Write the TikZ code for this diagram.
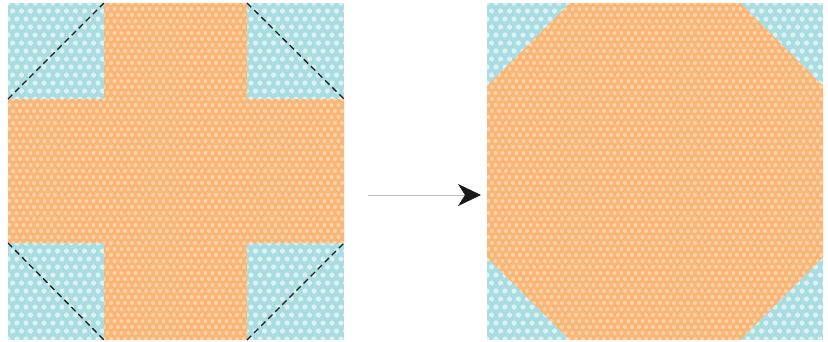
\documentclass[tikz,border=0pt]{standalone}
\usetikzlibrary{arrows.meta}
\definecolor{qblue}{HTML}{A9DDE1}
\definecolor{qorange}{HTML}{FBB574}
\tikzset{
  cutline/.style={black!90,line width=1.3pt,dash pattern=on 6pt off 4pt},
  bluedots/.style={white,opacity=0.6},
  orangedots/.style={white,opacity=0.42},
}
\newcommand{\bdots}[2]{% x0 y0
  \foreach \j in {0,...,43} { \fill[bluedots] foreach \i in {0,...,38} {({#1+\i*9+mod(\j,2)*4.5},{#2+\j*8}) circle (2.6)}; }}
\newcommand{\odots}[2]{%
  \foreach \j in {0,...,57} { \fill[orangedots] foreach \i in {0,...,49} {({#1+\i*7+mod(\j,2)*3.5},{#2+\j*6}) circle (2.0)}; }}
\begin{document}
\begin{tikzpicture}[x=1pt,y=-1pt]
\useasboundingbox (0,0) rectangle (828,341);
% ---------- left block ----------
\fill[qblue] (8,3) rectangle (344,340);
\begin{scope}
  \clip (8,3) rectangle (344,340);
  \bdots{8}{3}
\end{scope}
\fill[qorange] (104,3) -- (247,3) -- (247,99) -- (344,99) -- (344,243) -- (247,243) -- (247,340) -- (104,340) -- (104,243) -- (8,243) -- (8,99) -- (104,99) -- cycle;
\begin{scope}
  \clip (104,3) -- (247,3) -- (247,99) -- (344,99) -- (344,243) -- (247,243) -- (247,340) -- (104,340) -- (104,243) -- (8,243) -- (8,99) -- (104,99) -- cycle;
  \odots{6}{3}
\end{scope}
\coordinate (tl1) at (8,99);   \coordinate (tl2) at (104,3);
\coordinate (tr1) at (247,3);  \coordinate (tr2) at (344,99);
\coordinate (bl1) at (8,243);  \coordinate (bl2) at (104,340);
\coordinate (br1) at (247,340);\coordinate (br2) at (344,243);
\draw[cutline] (tl1) -- (tl2);
\draw[cutline] (tr1) -- (tr2);
\draw[cutline] (bl1) -- (bl2);
\draw[cutline] (br1) -- (br2);
% ---------- arrow ----------
\coordinate (a1) at (368,195);
\coordinate (a2) at (481,195);
\draw[black!25,line width=0.6pt,-{Stealth[color=black!90,fill=black!90,length=23pt,width=22pt,inset=7pt]}] (a1) -- (a2);
% ---------- right block ----------
\fill[qblue] (487,3) rectangle (823,340);
\begin{scope}
  \clip (487,3) rectangle (823,340);
  \bdots{487}{3}
\end{scope}
\fill[qorange] (570,3) -- (740,3) -- (823,86) -- (823,257) -- (740,340) -- (570,340) -- (487,257) -- (487,86) -- cycle;
\begin{scope}
  \clip (570,3) -- (740,3) -- (823,86) -- (823,257) -- (740,340) -- (570,340) -- (487,257) -- (487,86) -- cycle;
  \odots{485}{3}
\end{scope}
\end{tikzpicture}
\end{document}
